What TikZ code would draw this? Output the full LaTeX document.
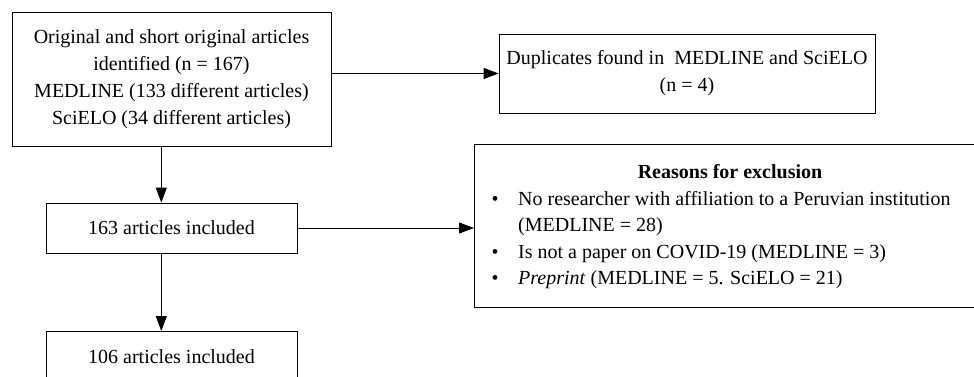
\documentclass[tikz,border=0pt]{standalone}
\usepackage{fontspec}
\setmainfont{Liberation Serif}
\usetikzlibrary{arrows.meta}
\begin{document}
\begin{tikzpicture}[x=1pt,y=-1pt,
 box/.style={draw, line width=0.9pt, inner sep=0pt, align=center, font=\fontsize{20}{27}\selectfont},
 arr/.style={-{Triangle[length=15pt,width=11pt]}, line width=0.9pt},
 txt/.style={font=\fontsize{20}{26.5}\selectfont, inner sep=0pt}]
\useasboundingbox (0,0) rectangle (974,377);
\clip (0,0) rectangle (974,377);
\node[box, minimum width=319pt, minimum height=134pt] (b1) at (171.5,79) {Original and short original articles\\identified (n = 167)\\MEDLINE (133 different articles)\\SciELO (34 different articles)};
\node[box, minimum width=376pt, minimum height=79pt] (b2) at (687,73.5) {Duplicates found in~ MEDLINE and SciELO\\(n = 4)};
\node[box, minimum width=251pt, minimum height=50pt] (b3) at (171.5,228) {163 articles included};
\node[box, minimum width=251pt, minimum height=50pt, anchor=north] (b4) at (171.5,331) {106 articles included};
\node[draw, line width=0.9pt, minimum width=520pt, minimum height=163pt, anchor=north west, inner sep=0pt] (b5) at (474,144) {};
\node[txt, anchor=base] (title) at (730,178) {\bfseries Reasons for exclusion};
\node[txt, anchor=base west] (list) at (491.5,205) {\begin{tabular}[t]{@{}p{26.5pt}@{}l@{}}\textbullet & No researcher with affiliation to a Peruvian institution\\ & (MEDLINE = 28)\\ \textbullet & Is not a paper on COVID-19 (MEDLINE = 3)\\ \textbullet & \textit{Preprint} (MEDLINE = 5. SciELO = 21)\end{tabular}};
\draw[arr] ([xshift=-10.2pt]b1.south) -- ([xshift=-10.2pt]b3.north);
\draw[arr] (b1.east |- b2.west) -- (b2.west);
\draw[arr] ([xshift=-10.2pt]b3.south) -- ([xshift=-10.2pt]b4.north);
\draw[arr] (b3.east) -- (b3.east -| b5.west);
\end{tikzpicture}
\end{document}
